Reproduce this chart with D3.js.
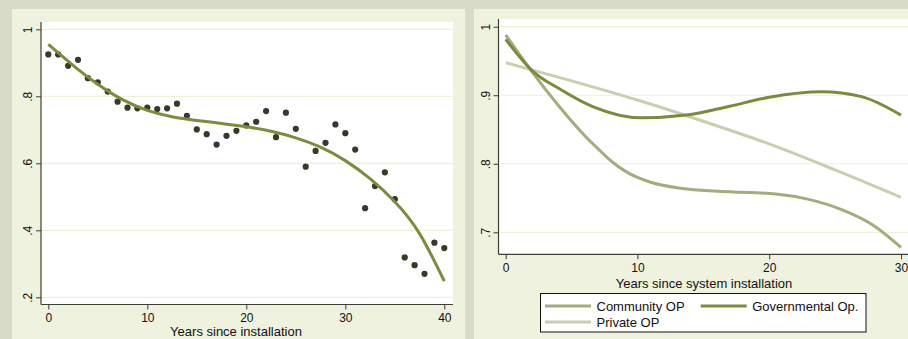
<!DOCTYPE html>
<html>
<head>
<meta charset="utf-8">
<script src="https://cdn.jsdelivr.net/npm/d3@7"></script>
<style>
html,body{margin:0;padding:0;background:#d8dbc7;}
svg{display:block;font-family:"Liberation Sans",Arial,Helvetica,sans-serif;}
</style>
</head>
<body>
<svg id="chart" width="908" height="339"></svg>
<script>
// ---------- Left panel data ----------
const years = [0,1,2,3,4,5,6,7,8,9,10,11,12,13,14,15,16,17,18,19,20,21,22,23,24,25,26,27,28,29,30,31,32,33,34,35,36,37,38,39,40];
const share = [0.925,0.925,0.891,0.909,0.854,0.842,0.814,0.784,0.766,0.764,0.766,0.762,0.764,0.778,0.742,0.701,0.687,0.656,0.682,0.697,0.713,0.724,0.756,0.678,0.751,0.703,0.590,0.637,0.661,0.716,0.690,0.641,0.466,0.532,0.573,0.493,0.319,0.296,0.270,0.363,0.347];
const fitYears = [0,2.5,5,7.5,10,12.5,15,17.5,20,22.5,25,27.5,30,32.5,35,37.5,40];
const fitShare = [0.955,0.8925,0.836,0.790,0.758,0.739,0.728,0.719,0.709,0.6955,0.676,0.648,0.608,0.554,0.485,0.390,0.248];
const leftXTicks = [0,10,20,30,40];
const leftYTicks = [0.2,0.4,0.6,0.8,1];
const leftXTitle = "Years since installation";

// ---------- Right panel data ----------
const commYears = [0,2,4,6,7,8,9,10,11,13,17,20.5,23,25.5,28,30];
const commVals  = [0.988,0.934,0.885,0.841,0.822,0.804,0.790,0.780,0.773,0.765,0.759,0.756,0.748,0.733,0.709,0.678];
const govYears  = [0,2,4.2,6.65,10.3,13.7,17,20,24,27,30];
const govVals   = [0.9816,0.936,0.908,0.883,0.867,0.871,0.884,0.897,0.905,0.898,0.871];
const privYears = [0,5,10,15,20,25,30];
const privVals  = [0.9475,0.921,0.893,0.862,0.829,0.791,0.751];
const rightXTicks = [0,10,20,30];
const rightYTicks = [0.7,0.8,0.9,1];
const rightXTitle = "Years since system installation";
const seriesNames = ["Community OP","Governmental Op.","Private OP"];

// ---------- Styles ----------
const C = {
  outer:"#d8dbc7", panel:"#eff2de", plot:"#ffffff", grid:"#eef1d6",
  axis:"#3c3f33", text:"#111111", dot:"#363a2a", fit:"#7b8c3b",
  comm:"#a4ac7c", gov:"#7b8b3b", priv:"#c9ceb0"
};
const fmt = d => d === 1 ? "1" : d3.format(".1f")(d).replace(/^0/, "");

const svg = d3.select("#chart");
svg.append("rect").attr("width",908).attr("height",339).attr("fill",C.outer);

// panels
svg.append("rect").attr("x",12).attr("y",9).attr("width",453).attr("height",330).attr("fill",C.panel);
svg.append("rect").attr("x",474).attr("y",9).attr("width",434).attr("height",330).attr("fill",C.panel);

function panel(o){
  const g = svg.append("g");
  g.append("rect").attr("x",o.px0).attr("y",o.py0).attr("width",o.px1-o.px0).attr("height",o.py1-o.py0).attr("fill",C.plot);
  g.selectAll(".grid").data(o.yTicks).join("line")
    .attr("x1",o.px0+1).attr("x2",o.px1).attr("y1",d=>o.y(d)).attr("y2",d=>o.y(d))
    .attr("stroke",C.grid).attr("stroke-width",1.2);
  g.append("line").attr("x1",o.px0).attr("x2",o.px0).attr("y1",o.py0).attr("y2",o.py1)
    .attr("stroke",C.axis).attr("stroke-width",1.2);
  g.append("line").attr("x1",o.px0).attr("x2",o.px1).attr("y1",o.py1).attr("y2",o.py1)
    .attr("stroke",C.axis).attr("stroke-width",1.2);
  const ya = g.append("g").attr("transform",`translate(${o.px0},0)`)
    .call(d3.axisLeft(o.y).tickValues(o.yTicks).tickFormat(fmt).tickSize(5));
  ya.select(".domain").remove();
  ya.selectAll("line").attr("stroke",C.axis);
  ya.selectAll("text").attr("transform","rotate(-90)").attr("x",0).attr("y",-9).attr("dy",0)
    .attr("text-anchor","middle").attr("fill",C.text).style("font-size","12px");
  const xa = g.append("g").attr("transform",`translate(0,${o.py1})`)
    .call(d3.axisBottom(o.x).tickValues(o.xTicks).tickSize(5).tickPadding(4));
  xa.select(".domain").remove();
  xa.selectAll("line").attr("stroke",C.axis);
  xa.selectAll("text").attr("fill",C.text).style("font-size","12px");
  g.append("text").attr("x",o.titleX).attr("y",o.titleY).attr("text-anchor","middle")
    .attr("fill",C.text).style("font-size","13px").text(o.title);
  return g;
}

// ---------- Left panel ----------
const xL = d3.scaleLinear().domain([0,40]).range([48.3,444.3]);
const yL = d3.scaleLinear().domain([0.2,1]).range([297.3,29.3]);
const gL = panel({px0:41,px1:453,py0:22,py1:304.5,x:xL,y:yL,xTicks:leftXTicks,yTicks:leftYTicks,
  title:leftXTitle,titleX:236,titleY:336.3});
gL.selectAll(".dot").data(years.map((d,i)=>[d,share[i]])).join("circle")
  .attr("cx",d=>xL(d[0])).attr("cy",d=>yL(d[1])).attr("r",3.1).attr("fill",C.dot);
gL.append("path").datum(fitYears.map((d,i)=>[d,fitShare[i]]))
  .attr("d",d3.line().x(d=>xL(d[0])).y(d=>yL(d[1])).curve(d3.curveNatural))
  .attr("fill","none").attr("stroke",C.fit).attr("stroke-width",3);

// ---------- Right panel ----------
const xR = d3.scaleLinear().domain([0,30]).range([505.7,901]);
const yR = d3.scaleLinear().domain([0.7,1]).range([232.3,26.7]);
const gR = panel({px0:498.5,px1:908,py0:19,py1:254.3,x:xR,y:yR,xTicks:rightXTicks,yTicks:rightYTicks,
  title:rightXTitle,titleX:704,titleY:287.5});
const lineR = d3.line().x(d=>xR(d[0])).y(d=>yR(d[1])).curve(d3.curveMonotoneX);
const seriesR = [
  {name:seriesNames[0], color:C.comm, pts:commYears.map((d,i)=>[d,commVals[i]])},
  {name:seriesNames[1], color:C.gov,  pts:govYears.map((d,i)=>[d,govVals[i]])},
  {name:seriesNames[2], color:C.priv, pts:privYears.map((d,i)=>[d,privVals[i]])}
];
[seriesR[2],seriesR[0],seriesR[1]].forEach(s=>{
  gR.append("path").datum(s.pts).attr("d",lineR).attr("fill","none")
    .attr("stroke",s.color).attr("stroke-width",3);
});

// legend
const lg = svg.append("g");
lg.append("rect").attr("x",540.5).attr("y",293.5).attr("width",325.5).attr("height",38.5)
  .attr("fill","#ffffff").attr("stroke","#111").attr("stroke-width",1);
const legPos = [[545,306],[700.7,306],[545,322]];
seriesR.forEach((s,i)=>{
  const [lx,ly] = legPos[i];
  lg.append("line").attr("x1",lx).attr("x2",lx+46).attr("y1",ly).attr("y2",ly)
    .attr("stroke",s.color).attr("stroke-width",3);
  lg.append("text").attr("x",lx+51.5).attr("y",ly+4.5).attr("fill",C.text)
    .style("font-size","13px").text(s.name);
});
</script>
</body>
</html>
